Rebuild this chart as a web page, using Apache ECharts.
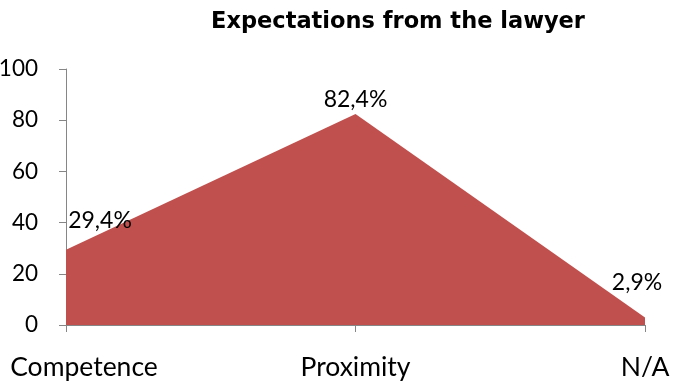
<!DOCTYPE html>
<html>
<head>
<meta charset="utf-8">
<script src="https://cdn.jsdelivr.net/npm/echarts@6/dist/echarts.min.js"></script>
<style>
  html, body { margin: 0; padding: 0; background: #fff; }
  #chart { width: 673px; height: 383px; }
</style>
</head>
<body>
<div id="chart"></div>
<script>
// Survey answers: what respondents expect from the lawyer (share in %)
const categories = ['Competence', 'Proximity', 'N/A'];
const shares = [29.4, 82.4, 2.9];
const yTicks = { min: 0, max: 100, step: 20 };

const labelFont = 'Lato, "Noto Sans", sans-serif';
const fmt = v => String(v).replace('.', ',') + '%';

// per-point label placement around the area's outline
const labelPlacement = [
  { position: 'top', offset: [34, -13] },
  { position: 'top', offset: [0, 2] },
  { position: 'top', offset: [-8, -18] }
];

const chart = echarts.init(document.getElementById('chart'), null, { renderer: 'canvas' });

chart.setOption({
  animation: false,
  backgroundColor: '#ffffff',
  title: {
    text: 'Expectations from the lawyer',
    left: 393,
    textAlign: 'center',
    top: 6,
    textStyle: {
      fontFamily: '"DejaVu Sans", Verdana, sans-serif',
      fontWeight: 'bold',
      fontSize: 22.5,
      color: '#000'
    }
  },
  grid: {
    left: 66, right: 28, top: 69, bottom: 58,
    containLabel: false,
    outerBoundsMode: 'none'
  },
  xAxis: {
    type: 'category',
    boundaryGap: false,
    data: categories.map((c, i) => i === 0
      ? { value: c, textStyle: { padding: [0, 0, 0, 36] } }
      : c),
    axisLine: { lineStyle: { color: '#868686', width: 1 } },
    axisTick: { show: true, length: 7, lineStyle: { color: '#868686' } },
    axisLabel: {
      margin: 29,
      fontFamily: labelFont,
      fontSize: 26.5,
      color: '#000'
    },
    splitLine: { show: false }
  },
  yAxis: {
    type: 'value',
    min: yTicks.min,
    max: yTicks.max,
    interval: yTicks.step,
    axisLine: { show: true, lineStyle: { color: '#868686', width: 1 } },
    axisTick: { show: true, length: 7, lineStyle: { color: '#868686' } },
    axisLabel: {
      margin: 28,
      fontFamily: labelFont,
      fontSize: 22.5,
      color: '#000'
    },
    splitLine: { show: false }
  },
  series: [{
    type: 'line',
    data: shares.map((v, i) => ({
      value: v,
      label: labelPlacement[i]
    })),
    symbol: 'circle',
    symbolSize: 0.01,
    showSymbol: true,
    lineStyle: { width: 0 },
    itemStyle: { color: '#C0504D' },
    areaStyle: { color: '#C0504D', opacity: 1 },
    label: {
      show: true,
      formatter: p => fmt(p.value),
      fontFamily: labelFont,
      fontSize: 23,
      color: '#000'
    },
    z: 1
  }]
});
</script>
</body>
</html>
